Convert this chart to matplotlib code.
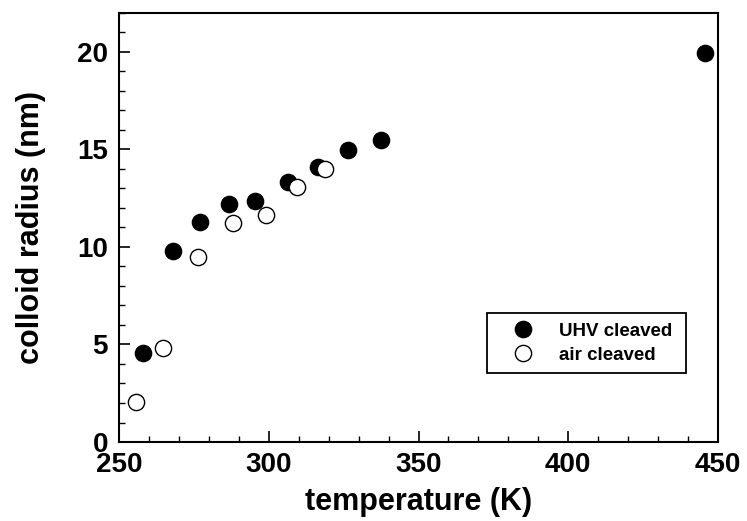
import matplotlib.pyplot as plt
from matplotlib.ticker import MultipleLocator

plt.rcParams['font.family'] = ['Liberation Sans', 'DejaVu Sans']
plt.rcParams['font.weight'] = 'bold'

# UHV cleaved (filled)
uhv_temp = [258.0, 267.9, 277.2, 286.7, 295.3, 306.3, 316.3, 326.3, 337.4, 445.5]
uhv_radius = [4.56, 9.78, 11.30, 12.2, 12.36, 13.33, 14.1, 14.97, 15.46, 19.93]

# air cleaved (open)
air_temp = [255.7, 264.6, 276.4, 288.0, 299.0, 309.3, 318.9]
air_radius = [2.05, 4.81, 9.46, 11.2, 11.62, 13.09, 14.01]

fig = plt.figure(figsize=(7.47, 5.21), dpi=100)
ax = fig.add_axes([0.1593, 0.1516, 0.8019, 0.824])

ax.plot(uhv_temp, uhv_radius, 'o', color='black', markersize=11.7,
        label='UHV cleaved')
ax.plot(air_temp, air_radius, 'o', markerfacecolor='white',
        markeredgecolor='black', markeredgewidth=1.0, markersize=11.7,
        label='air cleaved')

ax.set_xlim(250, 450)
ax.set_ylim(0, 22)
ax.xaxis.set_major_locator(MultipleLocator(50))
ax.xaxis.set_minor_locator(MultipleLocator(10))
ax.yaxis.set_major_locator(MultipleLocator(5))
ax.yaxis.set_minor_locator(MultipleLocator(1))
ax.tick_params(which='major', direction='in', length=8, width=1.2,
               labelsize=20)
ax.tick_params(axis='x', which='major', pad=7)
ax.tick_params(axis='y', which='major', pad=8)
ax.tick_params(which='minor', direction='in', length=4, width=1.0)
for lab in ax.get_xticklabels() + ax.get_yticklabels():
    lab.set_fontweight('bold')
for sp in ax.spines.values():
    sp.set_linewidth(1.5)

ax.set_xlabel('temperature (K)', fontsize=22, fontweight='bold', labelpad=7)
ax.set_ylabel('colloid radius (nm)', fontsize=22, fontweight='bold', labelpad=22)

leg = ax.legend(loc='lower left', bbox_to_anchor=(0.614, 0.161, 0.333, 0.137),
                mode='expand', borderaxespad=0, fancybox=False,
                edgecolor='black', framealpha=1, handlelength=2.85,
                handletextpad=0.5, labelspacing=0.35, borderpad=0.5,
                prop={'weight': 'bold', 'size': 13.5})
leg.get_frame().set_linewidth(1.3)

fig.savefig('out.png', dpi=100)
